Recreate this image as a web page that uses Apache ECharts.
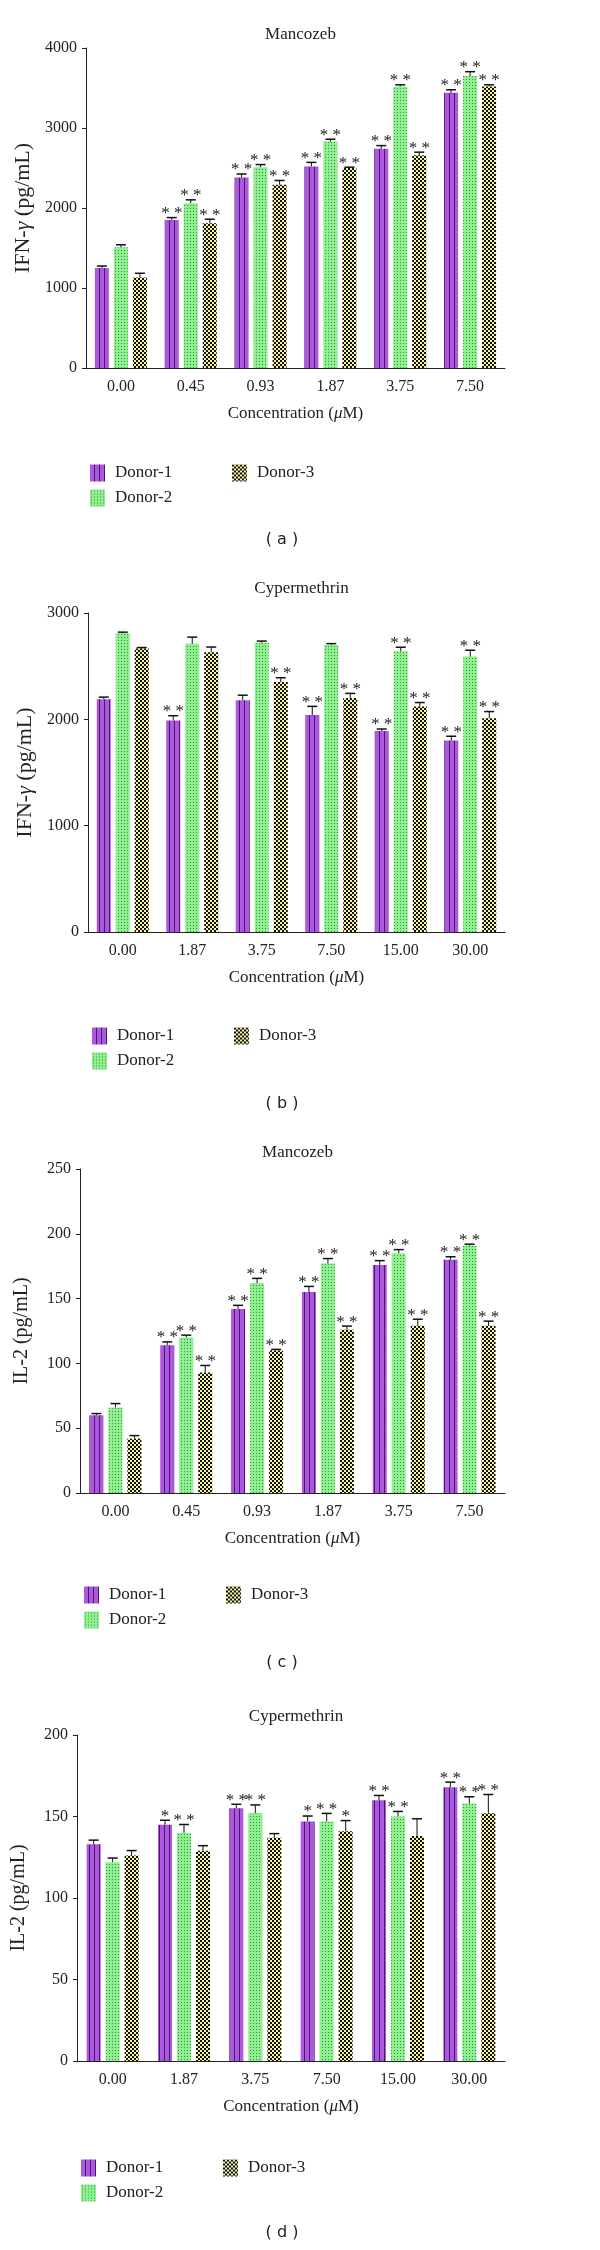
<!DOCTYPE html>
<html>
<head>
<meta charset="utf-8">
<script src="https://cdn.jsdelivr.net/npm/echarts@6/dist/echarts.min.js"></script>
<style>
html, body { margin: 0; padding: 0; background: #fff; }
#main { width: 600px; height: 2250px; }
</style>
</head>
<body>
<div id="main"></div>
<script>
// categories
var catsMan = ['0.00', '0.45', '0.93', '1.87', '3.75', '7.50'];
var catsCyp = ['0.00', '1.87', '3.75', '7.50', '15.00', '30.00'];
var donors = ['Donor-1', 'Donor-2', 'Donor-3'];

// (a) IFN-gamma, Mancozeb
var ifnMan1 = [1250, 1850, 2380, 2520, 2740, 3440];
var ifnMan2 = [1510, 2060, 2510, 2830, 3520, 3650];
var ifnMan3 = [1130, 1810, 2290, 2500, 2660, 3520];
var ifnManErr1 = [25, 30, 45, 50, 40, 38];
var ifnManErr2 = [30, 42, 33, 30, 20, 54];
var ifnManErr3 = [54, 50, 54, 10, 38, 20];
var ifnManSig1 = ['', '**', '**', '**', '**', '**'];
var ifnManSig2 = ['', '**', '**', '**', '**', '**'];
var ifnManSig3 = ['', '**', '**', '**', '**', '**'];

// (b) IFN-gamma, Cypermethrin
var ifnCyp1 = [2190, 1990, 2180, 2040, 1890, 1800];
var ifnCyp2 = [2810, 2710, 2720, 2700, 2640, 2590];
var ifnCyp3 = [2665, 2630, 2350, 2200, 2120, 2010];
var ifnCypErr1 = [19, 44, 47, 82, 19, 41];
var ifnCypErr2 = [10, 63, 16, 12, 38, 60];
var ifnCypErr3 = [10, 50, 41, 44, 38, 63];
var ifnCypSig1 = ['', '**', '', '**', '**', '**'];
var ifnCypSig2 = ['', '', '', '', '**', '**'];
var ifnCypSig3 = ['', '', '**', '**', '**', '**'];

// (c) IL-2, Mancozeb
var il2Man1 = [60, 114, 142, 155, 176, 180];
var il2Man2 = [66, 120, 162, 177, 185, 191];
var il2Man3 = [42, 93, 110, 126, 129, 129];
var il2ManErr1 = [1.3, 2.6, 2.8, 4.4, 3.3, 2.3];
var il2ManErr2 = [3, 1.8, 3.6, 3.9, 2.8, 1];
var il2ManErr3 = [2.3, 5.4, 0.8, 2.8, 5.1, 3.6];
var il2ManSig1 = ['', '**', '**', '**', '**', '**'];
var il2ManSig2 = ['', '**', '**', '**', '**', '**'];
var il2ManSig3 = ['', '**', '**', '**', '**', '**'];

// (d) IL-2, Cypermethrin
var il2Cyp1 = [133, 145, 155, 147, 160, 168];
var il2Cyp2 = [122, 140, 152, 147, 150, 158];
var il2Cyp3 = [126, 129, 137, 141, 138, 152];
var il2CypErr1 = [2.5, 2.7, 2.5, 3.3, 2.9, 3.1];
var il2CypErr2 = [2.5, 5.1, 5.1, 4.9, 3.1, 4.1];
var il2CypErr3 = [3.1, 3.1, 2.5, 6.5, 10.6, 11.5];
var il2CypSig1 = ['', '*', '**', '*', '**', '**'];
var il2CypSig2 = ['', '**', '**', '**', '**', '**'];
var il2CypSig3 = ['', '', '', '*', '', '**'];

// y axis tick ranges
var yMax = [4000, 3000, 250, 200];
var yStep = [1000, 1000, 50, 50];

var SERIF = 'Liberation Serif';
var BAR_W = 14;
var BAR_GAP = 5;

function pattern(w, h, draw) {
    var c = document.createElement('canvas');
    c.width = w; c.height = h;
    draw(c.getContext('2d'));
    return { image: c, repeat: 'repeat' };
}
var fills = [
    pattern(5, 4, function (ctx) {
        ctx.fillStyle = '#ab58de'; ctx.fillRect(0, 0, 5, 4);
        ctx.fillStyle = '#4a1670'; ctx.fillRect(4, 0, 1, 4);
    }),
    pattern(3, 3, function (ctx) {
        ctx.fillStyle = '#8ef08e'; ctx.fillRect(0, 0, 3, 3);
        ctx.fillStyle = '#3b8f45'; ctx.fillRect(1, 1, 1, 1);
    }),
    pattern(4, 4, function (ctx) {
        ctx.fillStyle = '#f7f3a4'; ctx.fillRect(0, 0, 4, 4);
        ctx.fillStyle = '#111'; ctx.fillRect(0, 0, 2, 2); ctx.fillRect(2, 2, 2, 2);
    })
];

var panels = [
    { cats: catsMan, vals: [ifnMan1, ifnMan2, ifnMan3], errs: [ifnManErr1, ifnManErr2, ifnManErr3],
      sig: [ifnManSig1, ifnManSig2, ifnManSig3], title: 'Mancozeb', yname: 'IFN-{i|γ} (pg/mL)', ysize: 22,
      left: 86, top: 48, height: 320, titleY: 31, legendY: 468, letter: '( a )', letterY: 540 },
    { cats: catsCyp, vals: [ifnCyp1, ifnCyp2, ifnCyp3], errs: [ifnCypErr1, ifnCypErr2, ifnCypErr3],
      sig: [ifnCypSig1, ifnCypSig2, ifnCypSig3], title: 'Cypermethrin', yname: 'IFN-{i|γ} (pg/mL)', ysize: 22,
      left: 88, top: 613, height: 319, titleY: 585, legendY: 1031, letter: '( b )', letterY: 1104 },
    { cats: catsMan, vals: [il2Man1, il2Man2, il2Man3], errs: [il2ManErr1, il2ManErr2, il2ManErr3],
      sig: [il2ManSig1, il2ManSig2, il2ManSig3], title: 'Mancozeb', yname: 'IL-2 (pg/mL)', ysize: 20,
      left: 80, top: 1169, height: 324, titleY: 1149, legendY: 1590, letter: '( c )', letterY: 1663 },
    { cats: catsCyp, vals: [il2Cyp1, il2Cyp2, il2Cyp3], errs: [il2CypErr1, il2CypErr2, il2CypErr3],
      sig: [il2CypSig1, il2CypSig2, il2CypSig3], title: 'Cypermethrin', yname: 'IL-2 (pg/mL)', ysize: 20,
      left: 77, top: 1735, height: 326, titleY: 1713, legendY: 2163, letter: '( d )', letterY: 2233 }
];

var RIGHT = 505;
var grid = [], xAxis = [], yAxis = [], title = [], legend = [], series = [], graphic = [];

panels.forEach(function (p, pi) {
    var cx = (p.left + RIGHT) / 2;
    grid.push({ left: p.left, top: p.top, width: RIGHT - p.left, height: p.height });
    title.push({
        text: p.title, left: cx, top: p.titleY - 10, textAlign: 'center',
        textStyle: { fontFamily: SERIF, fontSize: 17, fontWeight: 'normal', color: '#222' }
    });
    xAxis.push({
        type: 'category', gridIndex: pi, data: p.cats,
        name: 'Concentration ({i|μ}M)', nameLocation: 'middle', nameGap: 37,
        nameTextStyle: { fontFamily: SERIF, fontSize: 17, color: '#222',
            rich: { i: { fontFamily: SERIF, fontSize: 17, fontStyle: 'italic', color: '#222' } } },
        axisLine: { lineStyle: { color: '#222', width: 1 } },
        axisTick: { alignWithLabel: true, length: 4, lineStyle: { color: '#222' } },
        axisLabel: { fontFamily: SERIF, fontSize: 16, color: '#222', margin: 11 },
        splitLine: { show: false }
    });
    yAxis.push({
        type: 'value', gridIndex: pi, min: 0, max: yMax[pi], interval: yStep[pi],
        name: p.yname, nameLocation: 'middle', nameRotate: 90, nameGap: 48,
        nameTextStyle: { fontFamily: SERIF, fontSize: p.ysize, color: '#222',
            rich: { i: { fontFamily: SERIF, fontSize: p.ysize, fontStyle: 'italic', color: '#222' } } },
        axisLine: { show: true, lineStyle: { color: '#222', width: 1 } },
        axisTick: { show: true, length: 4, lineStyle: { color: '#222' } },
        axisLabel: { fontFamily: SERIF, fontSize: 16, color: '#222', margin: 9,
            formatter: function (v) { return String(v); } },
        splitLine: { show: false }
    });
    var legendCommon = {
        orient: 'vertical', top: p.legendY - 8.5, itemWidth: 15, itemHeight: 17, itemGap: 8,
        icon: 'rect', selectedMode: false,
        textStyle: { fontFamily: SERIF, fontSize: 17, color: '#222', padding: [0, 0, 0, 5] }
    };
    legend.push(Object.assign({ data: ['Donor-1', 'Donor-2'], left: p.left - 1 }, legendCommon));
    legend.push(Object.assign({ data: ['Donor-3'], left: p.left + 141 }, legendCommon));
    graphic.push({
        type: 'text', x: 282, y: p.letterY,
        style: { text: p.letter, fontFamily: 'DejaVu Sans', fontSize: 16, fill: '#222',
            textAlign: 'center', textVerticalAlign: 'middle' }
    });

    donors.forEach(function (name, k) {
        series.push({
            type: 'bar', name: name, xAxisIndex: pi, yAxisIndex: pi,
            data: p.vals[k], barWidth: BAR_W, barGap: (BAR_GAP / BAR_W * 100) + '%',
            itemStyle: { color: fills[k] }, silent: true
        });
        var rows = p.vals[k].map(function (v, i) { return [i, v, p.errs[k][i]]; });
        series.push({
            type: 'custom', xAxisIndex: pi, yAxisIndex: pi, data: rows, silent: true,
            encode: { x: 0, y: 1 }, z: 5,
            renderItem: function (params, api) {
                var i = api.value(0), v = api.value(1), e = api.value(2);
                var base = api.coord([i, v]);
                var top = api.coord([i, v + e]);
                var x = base[0] + (k - 1) * (BAR_W + BAR_GAP);
                var kids = [
                    { type: 'line', shape: { x1: x, y1: base[1], x2: x, y2: top[1] },
                      style: { stroke: '#111', lineWidth: 1 } },
                    { type: 'line', shape: { x1: x - 5, y1: top[1], x2: x + 5, y2: top[1] },
                      style: { stroke: '#111', lineWidth: 1.5 } }
                ];
                var s = p.sig[k][params.dataIndex];
                if (s) {
                    kids.push({ type: 'text', x: x, y: top[1] - 4,
                        style: { text: s.split('').join(' '), fontFamily: SERIF, fontSize: 17,
                            fill: '#222', textAlign: 'center', textVerticalAlign: 'middle' } });
                }
                return { type: 'group', children: kids };
            }
        });
    });
});

var myChart = echarts.init(document.getElementById('main'));
myChart.setOption({
    backgroundColor: '#fff',
    animation: false,
    title: title,
    legend: legend,
    grid: grid,
    xAxis: xAxis,
    yAxis: yAxis,
    graphic: graphic,
    series: series
});
window.onresize = myChart.resize;
</script>
</body>
</html>
